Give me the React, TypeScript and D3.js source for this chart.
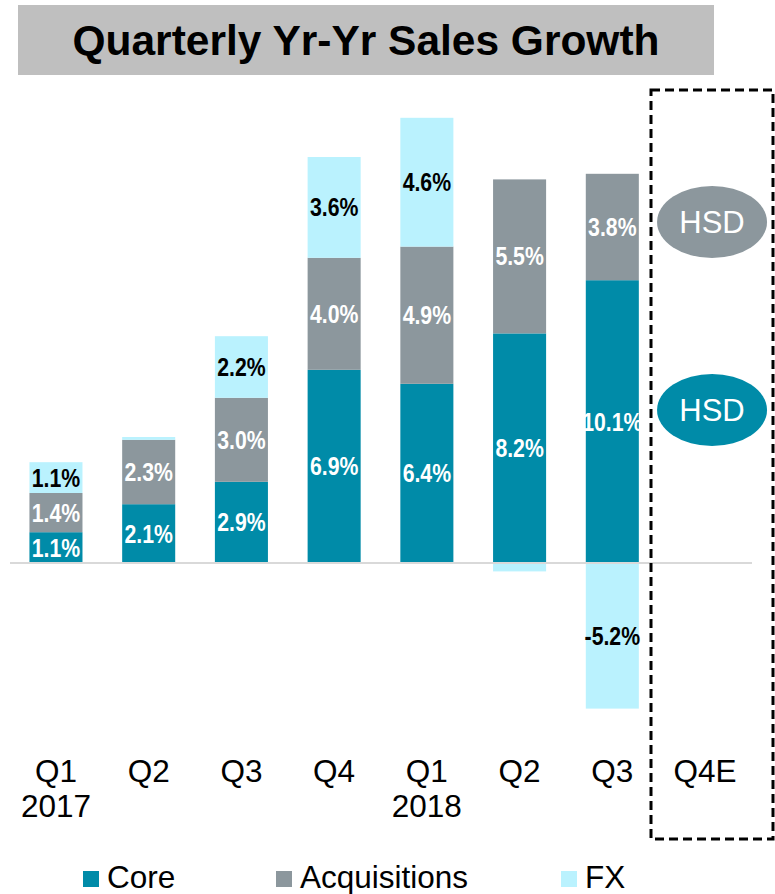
import React from "react";
import * as d3 from "d3";

const categories = ["Q1|2017", "Q2", "Q3", "Q4", "Q1|2018", "Q2", "Q3", "Q4E"];
const coreValues = [1.1, 2.1, 2.9, 6.9, 6.4, 8.2, 10.1, 0];
const acqValues = [1.4, 2.3, 3.0, 4.0, 4.9, 5.5, 3.8, 0];
const fxValues = [1.1, 0.1, 2.2, 3.6, 4.6, -0.3, -5.2, 0];
const seriesNames = ["Core", "Acquisitions", "FX"];
const seriesColors = ["#008BA8", "#8C979D", "#BAF2FE"];
const labelColors = ["#ffffff", "#ffffff", "#000000"];
const title = "Quarterly Yr-Yr Sales Growth";
const hsdLabels = ["HSD", "HSD"];

const W = 775;
const H = 894;
const SANS = "'Liberation Sans', Arial, sans-serif";

export default function App() {
  const keys = ["core", "acq", "fx"];
  const rows = categories.map((c, i) => ({
    cat: i,
    core: coreValues[i],
    acq: acqValues[i],
    fx: fxValues[i],
  }));
  const stack = d3.stack<any>().keys(keys).offset(d3.stackOffsetDiverging);
  const layers = stack(rows);

  const x = d3
    .scaleBand<number>()
    .domain(categories.map((_, i) => i))
    .range([9.6, 751.4])
    .paddingInner(0.428)
    .paddingOuter(0.214);
  const y = d3.scaleLinear().domain([-6, 17]).range([563 + 6 * 28, 563 - 17 * 28]);

  const bw = x.bandwidth();
  const q4x = (x(7) as number) + bw / 2;

  return (
    <svg
      width={W}
      height={H}
      style={{ position: "absolute", left: 0, top: 0, display: "block", background: "#fff" }}
    >
      {/* title */}
      <rect x={18} y={5} width={696} height={70} fill="#BFBFBF" />
      <text
        x={366}
        y={55}
        textAnchor="middle"
        fontFamily={SANS}
        fontWeight="bold"
        fontSize={42}
        textLength={587}
        lengthAdjust="spacingAndGlyphs"
        fill="#000"
      >
        {title}
      </text>

      {/* bars */}
      {layers.map((layer, li) => (
        <g key={layer.key}>
          {layer.map((d, i) => {
            const v = (rows[i] as any)[layer.key] as number;
            if (!v) return null;
            const y0 = y(Math.max(d[0], d[1]));
            const y1 = y(Math.min(d[0], d[1]));
            return (
              <rect
                key={i}
                x={x(i)}
                y={y0}
                width={bw}
                height={y1 - y0}
                fill={seriesColors[li]}
              />
            );
          })}
        </g>
      ))}

      {/* zero line */}
      <line x1={10} x2={752} y1={y(0)} y2={y(0)} stroke="#D9D9D9" strokeWidth={2} />

      {/* labels */}
      {layers.map((layer, li) => (
        <g key={"l" + layer.key}>
          {layer.map((d, i) => {
            const v = (rows[i] as any)[layer.key] as number;
            if (Math.abs(v) < 1) return null;
            const cx = (x(i) as number) + bw / 2;
            const cy = (y(d[0]) + y(d[1])) / 2;
            return (
              <text
                key={i}
                transform={`translate(${cx},${cy}) scale(0.85,1)`}
                dy="0.36em"
                textAnchor="middle"
                fontFamily={SANS}
                fontWeight="bold"
                fontSize={25}
                fill={labelColors[li]}
              >
                {v.toFixed(1) + "%"}
              </text>
            );
          })}
        </g>
      ))}

      {/* Q4E dashed box */}
      <rect
        x={651}
        y={90}
        width={122}
        height={749}
        fill="none"
        stroke="#000"
        strokeWidth={3}
        strokeDasharray="9,5"
      />

      {/* HSD ellipses */}
      {[222, 410].map((cy, k) => (
        <g key={"h" + k}>
          <ellipse cx={q4x + 7} cy={cy} rx={55} ry={36} fill={k === 0 ? seriesColors[1] : seriesColors[0]} />
          <text
            x={q4x + 7}
            y={cy}
            dy="0.36em"
            textAnchor="middle"
            fontFamily={SANS}
            fontSize={31}
            fill="#fff"
          >
            {hsdLabels[k]}
          </text>
        </g>
      ))}

      {/* x axis labels */}
      {categories.map((c, i) => {
        const parts = c.split("|");
        return (
          <text
            key={"x" + i}
            x={(x(i) as number) + bw / 2}
            y={782}
            textAnchor="middle"
            fontFamily={SANS}
            fontSize={31.5}
            fill="#000"
          >
            {parts.map((p, j) => (
              <tspan key={j} x={(x(i) as number) + bw / 2} dy={j === 0 ? 0 : 35}>
                {p}
              </tspan>
            ))}
          </text>
        );
      })}

      {/* legend */}
      {seriesNames.map((n, i) => {
        const lx = [83, 276, 561][i];
        return (
          <g key={"lg" + i}>
            <rect x={lx} y={871} width={16} height={16} fill={seriesColors[i]} />
            <text x={lx + 24} y={888} fontFamily={SANS} fontSize={31.5} fill="#000">
              {n}
            </text>
          </g>
        );
      })}
    </svg>
  );
}
